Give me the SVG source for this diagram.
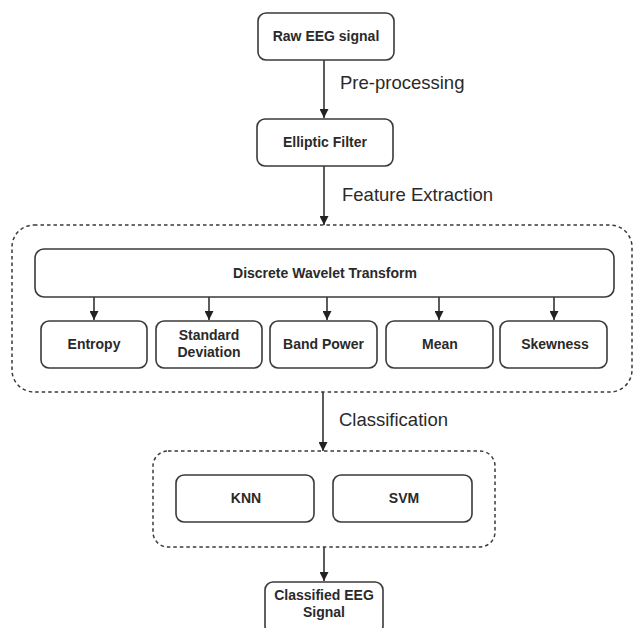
<svg xmlns="http://www.w3.org/2000/svg" width="635" height="628" viewBox="0 0 635 628">
<style>
.box{fill:#fff;stroke:#3a3a3a;stroke-width:1.6}
.grp{fill:none;stroke:#3a3a3a;stroke-width:1.5;stroke-dasharray:3.5 3}
.t{font-family:"Liberation Sans",Arial,sans-serif;font-weight:bold;font-size:14px;fill:#2a2a2a;text-anchor:middle}
.lbl{font-family:"Liberation Sans",Arial,sans-serif;font-size:18.5px;fill:#2a2a2a}
.c{stroke:#333;stroke-width:1.6;fill:none;marker-end:url(#ah)}
</style>
<defs>
<marker id="ah" viewBox="0 0 10 10" refX="10" refY="5" markerWidth="9" markerHeight="9" markerUnits="userSpaceOnUse" orient="auto">
<path d="M0,0 L10,5 L0,10 z" fill="#222"/>
</marker>
</defs>
<rect width="635" height="628" fill="#fff"/>
<g id="connectors">
<line class="c" x1="324" y1="60" x2="324" y2="118"/>
<line class="c" x1="324" y1="166" x2="324" y2="225"/>
<line class="c" x1="94" y1="297" x2="94" y2="320"/>
<line class="c" x1="209" y1="297" x2="209" y2="320"/>
<line class="c" x1="327" y1="297" x2="327" y2="320"/>
<line class="c" x1="439" y1="297" x2="439" y2="320"/>
<line class="c" x1="554" y1="297" x2="554" y2="320"/>
<line class="c" x1="323" y1="392" x2="323" y2="451"/>
<line class="c" x1="324" y1="547" x2="324" y2="581"/>
<text class="lbl" x="340" y="89">Pre-processing</text>
<text class="lbl" x="342" y="201">Feature Extraction</text>
<text class="lbl" x="339" y="426">Classification</text>
</g>
<g id="feature-group"><rect class="grp" x="12" y="225" width="620" height="167" rx="22"/></g>
<g id="classifier-group"><rect class="grp" x="153" y="451" width="342" height="96" rx="15"/></g>
<g id="raw"><rect class="box" x="258" y="13" width="136" height="47" rx="8"/><text class="t" x="326" y="41">Raw EEG signal</text></g>
<g id="elliptic"><rect class="box" x="257" y="119" width="136" height="47" rx="8"/><text class="t" x="325" y="147">Elliptic Filter</text></g>
<g id="dwt"><rect class="box" x="35" y="249" width="579" height="48" rx="9"/><text class="t" x="325" y="278">Discrete Wavelet Transform</text></g>
<g id="entropy"><rect class="box" x="41" y="321" width="106" height="47" rx="8"/><text class="t" x="94" y="349">Entropy</text></g>
<g id="std"><rect class="box" x="156" y="321" width="106" height="47" rx="8"/><text class="t" x="209" y="340">Standard</text><text class="t" x="209" y="357">Deviation</text></g>
<g id="band"><rect class="box" x="270" y="321" width="107" height="47" rx="8"/><text class="t" x="323.5" y="349">Band Power</text></g>
<g id="mean"><rect class="box" x="386" y="321" width="107" height="47" rx="8"/><text class="t" x="440" y="349">Mean</text></g>
<g id="skew"><rect class="box" x="500" y="321" width="107" height="47" rx="8"/><text class="t" x="555" y="349">Skewness</text></g>
<g id="knn"><rect class="box" x="176" y="475" width="138" height="47" rx="8"/><text class="t" x="246" y="503">KNN</text></g>
<g id="svm"><rect class="box" x="333" y="475" width="139" height="47" rx="8"/><text class="t" x="404" y="503">SVM</text></g>
<g id="classified"><rect class="box" x="265" y="582" width="118" height="52" rx="8"/><text class="t" x="324" y="600">Classified EEG</text><text class="t" x="324" y="617">Signal</text></g>
</svg>
